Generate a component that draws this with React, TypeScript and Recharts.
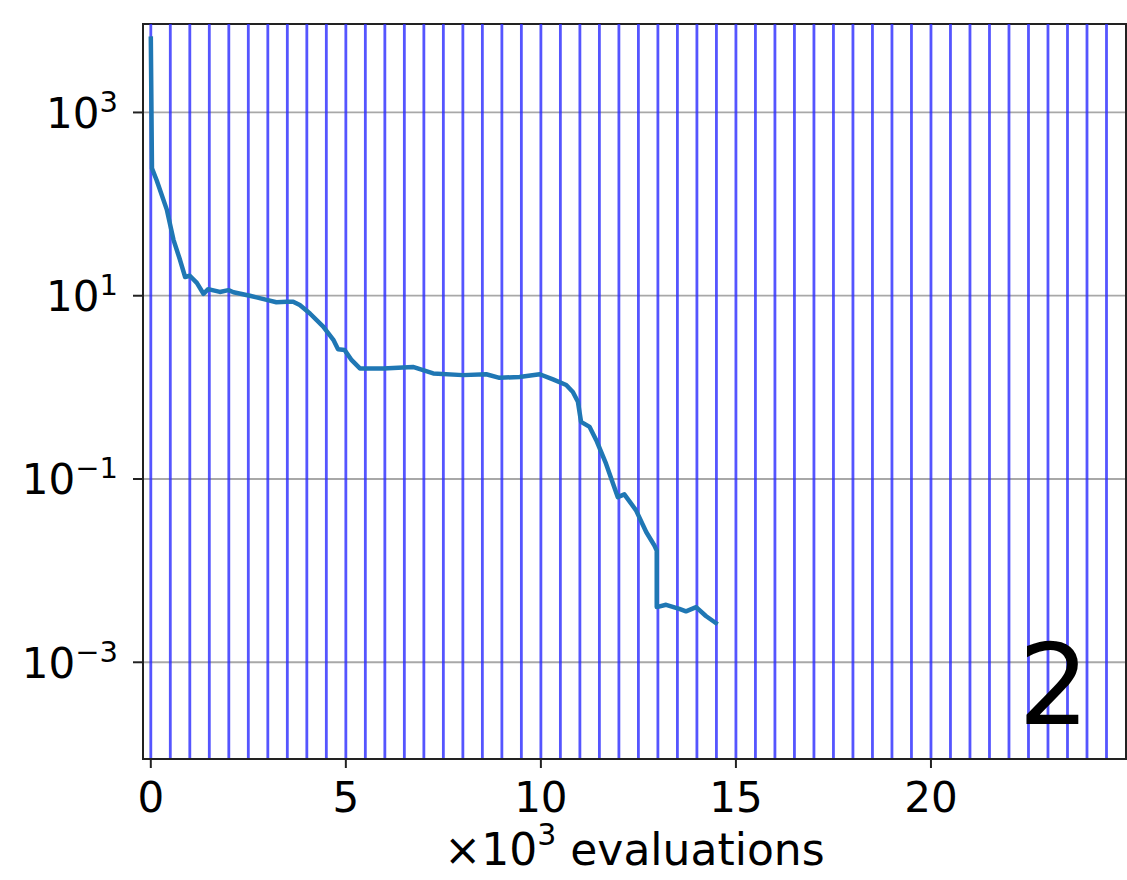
import React from "react";
import { LineChart, Line, XAxis, YAxis, CartesianGrid, ReferenceLine, ReferenceArea } from "recharts";

// x in thousands of evaluations
const evals = [
  0, 0.03, 0.15, 0.41, 0.58, 0.75, 0.88, 1.0, 1.18, 1.35, 1.47, 1.77, 1.99, 2.12, 2.54, 2.97, 3.22, 3.48,
  3.65, 3.82, 4.08, 4.42, 4.68, 4.8, 4.97, 5.15, 5.36, 5.96, 6.72, 7.24, 8.0, 8.6, 8.94, 9.45, 9.97,
  10.31, 10.65, 10.82, 10.95, 11.03, 11.25, 11.42, 11.67, 11.97, 12.14, 12.44, 12.7, 12.91, 12.97, 12.97,
  13.21, 13.55, 13.72, 13.98, 14.23, 14.53,
];
const fvals = [
  6760, 245, 182, 87, 41, 24.5, 16, 16.5, 13.8, 10.5, 11.8, 11, 11.5, 10.9, 10, 9, 8.5, 8.6,
  8.6, 7.9, 6.4, 4.6, 3.3, 2.6, 2.55, 1.98, 1.61, 1.61, 1.67, 1.42, 1.36, 1.39, 1.27, 1.3, 1.39,
  1.22, 1.06, 0.89, 0.695, 0.42, 0.37, 0.265, 0.147, 0.0635, 0.068, 0.0455, 0.0264, 0.0188, 0.0166, 0.004,
  0.00424, 0.00383, 0.0036, 0.004, 0.0032, 0.0026,
];

const xTicks = [0, 5, 10, 15, 20];
const yTicks = [1e-3, 1e-1, 1e1, 1e3];
const restartMarks = [
  0, 0.5, 1, 1.5, 2, 2.5, 3, 3.5, 4, 4.5, 5, 5.5, 6, 6.5, 7, 7.5, 8, 8.5, 9, 9.5,
  10, 10.5, 11, 11.5, 12, 12.5, 13, 13.5, 14, 14.5, 15, 15.5, 16, 16.5, 17, 17.5, 18, 18.5, 19, 19.5,
  20, 20.5, 21, 21.5, 22, 22.5, 23, 23.5, 24, 24.5,
];
const xDomain: [number, number] = [-0.2, 25];
const yDomain: [number, number] = [8.8e-5, 9230];
const panelLabel = "2";

const data = evals.map((x, i) => ({ x, y: fvals[i] }));

const FONT = "'DejaVu Sans', sans-serif";

const YTick = (props: any) => {
  const { x, y, payload } = props;
  const exp = Math.round(Math.log10(payload.value));
  const expStr = exp < 0 ? "\u2212" + Math.abs(exp) : String(exp);
  return (
    <text x={x - 15} y={y + 15.5} textAnchor="end" fontFamily={FONT} fontSize={42} fill="#000">
      <tspan>10</tspan>
      <tspan dy={-16} fontSize={29}>{expStr}</tspan>
    </text>
  );
};

const XTick = (props: any) => {
  const { x, y, payload } = props;
  return (
    <text x={x} y={y + 44} textAnchor="middle" fontFamily={FONT} fontSize={42} fill="#000">
      {payload.value}
    </text>
  );
};

const XLabel = (props: any) => {
  const vb = props.viewBox || { x: 143, y: 759, width: 983, height: 121 };
  const cx = vb.x + vb.width / 2;
  return (
    <text x={cx} y={vb.y + 106} textAnchor="middle" fontFamily={FONT} fontSize={44} fill="#000">
      <tspan>×10</tspan>
      <tspan dy={-20} fontSize={30}>3</tspan>
      <tspan dy={20}> evaluations</tspan>
    </text>
  );
};

export default function App() {
  return (
    <div style={{ position: "absolute", left: 0, top: 0, width: 1127, height: 880, background: "#fff" }}>
      <LineChart width={1127} height={880} data={data} margin={{ top: 24, right: 1, bottom: 0, left: 0 }}>
        <CartesianGrid vertical={false} stroke="#a8a8a8" strokeWidth={1.8} />
        {restartMarks.map((m) => (
          <ReferenceLine key={m} x={m} stroke="#2b2bff" strokeOpacity={0.8} strokeWidth={2.8} />
        ))}
        <XAxis
          dataKey="x"
          type="number"
          domain={xDomain}
          allowDataOverflow
          ticks={xTicks}
          tick={<XTick />}
          tickSize={9}
          tickMargin={0}
          height={121}
          axisLine={{ stroke: "#222", strokeWidth: 2 }}
          tickLine={{ stroke: "#222", strokeWidth: 2 }}
          label={{ content: <XLabel /> }}
        />
        <YAxis
          dataKey="y"
          scale="log"
          type="number"
          domain={yDomain}
          allowDataOverflow
          ticks={yTicks}
          tick={<YTick />}
          tickSize={10}
          tickMargin={0}
          width={143}
          axisLine={{ stroke: "#222", strokeWidth: 2 }}
          tickLine={{ stroke: "#222", strokeWidth: 2 }}
        />
        <ReferenceArea x1={xDomain[0]} x2={xDomain[1]} y1={yDomain[0]} y2={yDomain[1]} fill="none" stroke="#222" strokeWidth={2} ifOverflow="visible" />
        <Line dataKey="y" type="linear" stroke="#1f77b4" strokeWidth={4.5} strokeLinejoin="round" dot={false} isAnimationActive={false} />
      </LineChart>
      <svg width={1127} height={880} style={{ position: "absolute", left: 0, top: 0, pointerEvents: "none" }}>
        <text x={1054} y={724} textAnchor="middle" fontFamily={FONT} fontSize={112} fill="#000">
          {panelLabel}
        </text>
      </svg>
    </div>
  );
}
